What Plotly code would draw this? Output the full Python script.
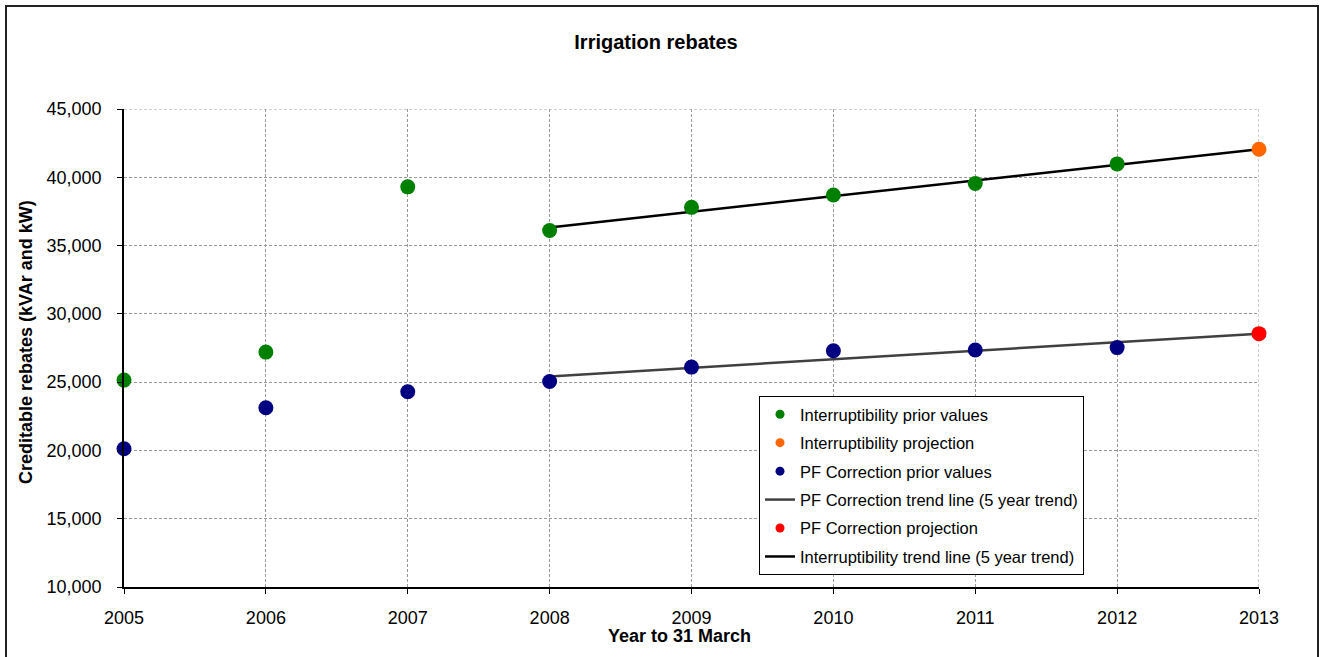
import plotly.graph_objects as go

# Years (year to 31 March)
years = [2005, 2006, 2007, 2008, 2009, 2010, 2011, 2012]
projection_year = [2013]

# Creditable rebates (kVAr and kW)
interruptibility_prior = [25150, 27200, 39300, 36100, 37800, 38700, 39550, 40980]
interruptibility_projection = [42050]
pf_prior = [20120, 23120, 24300, 25050, 26100, 27300, 27350, 27530]
pf_projection = [28550]

# Five-year trend lines (2008 -> 2013)
trend_years = [2008, 2013]
interruptibility_trend = [36330, 42050]
pf_trend = [25420, 28550]

y_ticks = [10000, 15000, 20000, 25000, 30000, 35000, 40000, 45000]
x_ticks = [2005, 2006, 2007, 2008, 2009, 2010, 2011, 2012, 2013]

FONT = "Arial, Liberation Sans, sans-serif"
GREEN = "#008000"
ORANGE = "#FF6600"
NAVY = "#000080"
RED = "#FF0000"
TREND_PF = "#404040"
TREND_INT = "#000000"
GRID = "#9A9A9A"

fig = go.Figure()

# Plotted marks (legend entries are drawn separately with smaller symbols)
fig.add_trace(go.Scatter(x=trend_years, y=pf_trend, mode="lines", cliponaxis=False,
                         line=dict(color=TREND_PF, width=2.5), showlegend=False))
fig.add_trace(go.Scatter(x=trend_years, y=interruptibility_trend, mode="lines",
                         cliponaxis=False,
                         line=dict(color=TREND_INT, width=2.5), showlegend=False))
fig.add_trace(go.Scatter(x=years, y=interruptibility_prior, mode="markers",
                         cliponaxis=False,
                         marker=dict(color=GREEN, size=15), showlegend=False))
fig.add_trace(go.Scatter(x=projection_year, y=interruptibility_projection, mode="markers",
                         cliponaxis=False,
                         marker=dict(color=ORANGE, size=15), showlegend=False))
fig.add_trace(go.Scatter(x=years, y=pf_prior, mode="markers", cliponaxis=False,
                         marker=dict(color=NAVY, size=15), showlegend=False))
fig.add_trace(go.Scatter(x=projection_year, y=pf_projection, mode="markers",
                         cliponaxis=False,
                         marker=dict(color=RED, size=15), showlegend=False))

# Legend entries
legend_items = [
    ("Interruptibility prior values", "markers", GREEN),
    ("Interruptibility projection", "markers", ORANGE),
    ("PF Correction prior values", "markers", NAVY),
    ("PF Correction trend line (5 year trend)", "lines", TREND_PF),
    ("PF Correction projection", "markers", RED),
    ("Interruptibility trend line (5 year trend)", "lines", TREND_INT),
]
for i, (name, mode, color) in enumerate(legend_items):
    if mode == "markers":
        fig.add_trace(go.Scatter(x=[None], y=[None], mode="markers", name=name,
                                 legendgroup=f"g{i}",
                                 marker=dict(color=color, size=9)))
    else:
        fig.add_trace(go.Scatter(x=[None], y=[None], mode="lines", name=name,
                                 legendgroup=f"g{i}",
                                 line=dict(color=color, width=2.5)))

L, R, T, B = 124, 64, 109, 70
W, H = 1323, 657
pw, ph = W - L - R, H - T - B

def px_x(p):
    return (p - L) / pw

def px_y(p):
    return (H - B - p) / ph

axis_common = dict(
    showline=True, linecolor="#000000", linewidth=1.5,
    ticks="outside", ticklen=5, tickcolor="#000000",
    showgrid=True, gridcolor=GRID, griddash="3px,2px", gridwidth=1,
    zeroline=False, tickfont=dict(size=18, family=FONT, color="#000000"),
)

fig.update_layout(
    width=W, height=H,
    margin=dict(l=L, r=R, t=T, b=B),
    paper_bgcolor="white", plot_bgcolor="white",
    font=dict(family=FONT, size=16, color="#000000"),
    title=dict(text="<b>Irrigation rebates</b>", x=656 / W, xref="container",
               xanchor="center", y=1 - 42 / H, yref="container", yanchor="middle",
               font=dict(size=20, family=FONT, color="#000000")),
    xaxis=dict(range=[2005, 2013], tickvals=x_ticks,
               ticktext=[str(v) for v in x_ticks], ticklabelstandoff=9,
               **axis_common),
    yaxis=dict(range=[10000, 45000], tickvals=y_ticks,
               ticktext=[f"{v:,}" for v in y_ticks], ticklabelstandoff=12,
               **axis_common),
    legend=dict(x=px_x(759), y=px_y(396), xanchor="left", yanchor="top",
                bgcolor="white", bordercolor="#000000", borderwidth=1,
                font=dict(size=16.5, family=FONT, color="#000000"),
                tracegroupgap=4, traceorder="grouped"),
    annotations=[
        dict(text="<b>Creditable rebates (kVAr and kW)</b>", textangle=-90,
             xref="paper", yref="paper", x=px_x(26), y=px_y(342),
             xanchor="center", yanchor="middle", showarrow=False,
             font=dict(size=18, family=FONT, color="#000000")),
        dict(text="<b>Year to 31 March</b>",
             xref="paper", yref="paper", x=px_x(679), y=px_y(636),
             xanchor="center", yanchor="middle", showarrow=False,
             font=dict(size=18, family=FONT, color="#000000")),
    ],
    shapes=[
        # outer chart frame
        dict(type="rect", xref="paper", yref="paper",
             x0=px_x(6), x1=px_x(1318), y0=px_y(662), y1=px_y(6),
             line=dict(color="#222222", width=2), fillcolor="rgba(0,0,0,0)",
             layer="below"),
        # gridlines on the top and right edges of the plot area
        dict(type="line", xref="x", yref="paper", x0=x_ticks[-1], x1=x_ticks[-1],
             y0=0, y1=1, line=dict(color=GRID, width=1, dash="3px,2px"),
             layer="below"),
        dict(type="line", xref="paper", yref="y", x0=0, x1=1,
             y0=y_ticks[-1], y1=y_ticks[-1],
             line=dict(color=GRID, width=1, dash="3px,2px"), layer="below"),
    ],
)

fig.write_html("out.html")
